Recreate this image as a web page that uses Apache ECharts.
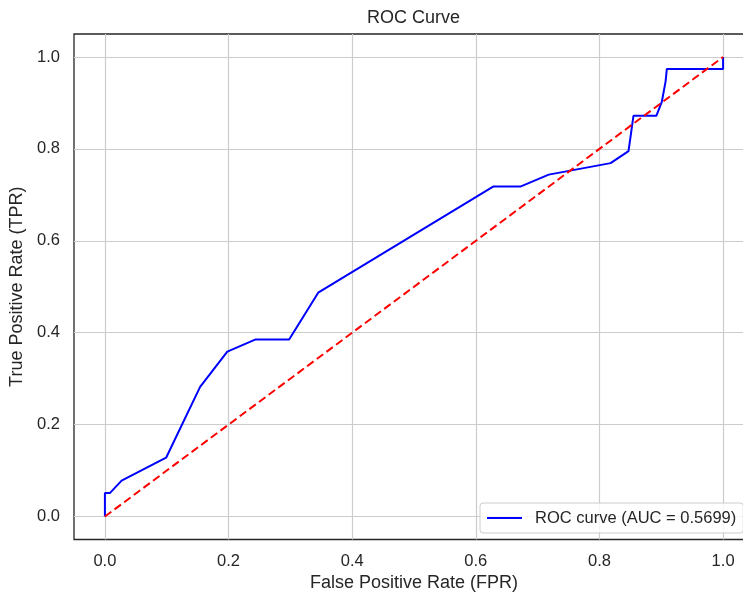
<!DOCTYPE html>
<html>
<head>
<meta charset="utf-8">
<script src="https://cdn.jsdelivr.net/npm/echarts@6/dist/echarts.min.js"></script>
<style>
html,body{margin:0;padding:0;background:#fff;}
#chart{width:743px;height:595px;}
</style>
</head>
<body>
<div id="chart"></div>
<script>
// ROC curve points
var fpr = [0, 0, 0.008, 0.027, 0.099, 0.154, 0.198, 0.243, 0.298, 0.345, 0.628, 0.672, 0.718, 0.818, 0.847, 0.851, 0.855, 0.892, 0.901, 0.907, 0.909, 1.0, 1.0];
var tpr = [0, 0.051, 0.051, 0.078, 0.128, 0.282, 0.359, 0.385, 0.385, 0.487, 0.718, 0.718, 0.744, 0.769, 0.795, 0.833, 0.872, 0.872, 0.903, 0.947, 0.974, 0.974, 1.0];
// chance diagonal
var diagX = [0, 1];
var diagY = [0, 1];
// ticks
var xTicks = [0, 0.2, 0.4, 0.6, 0.8, 1.0];
var xTickLabels = ['0.0', '0.2', '0.4', '0.6', '0.8', '1.0'];
var yTicks = [0, 0.2, 0.4, 0.6, 0.8, 1.0];
var yTickLabels = ['0.0', '0.2', '0.4', '0.6', '0.8', '1.0'];
var titleText = 'ROC Curve';
var xName = 'False Positive Rate (FPR)';
var yName = 'True Positive Rate (TPR)';
var seriesName = 'ROC curve (AUC = 0.5699)';

function pairs(xs, ys) { return xs.map(function (x, i) { return [x, ys[i]]; }); }
function labelFor(ticks, labels) {
  return function (v) {
    for (var i = 0; i < ticks.length; i++) if (Math.abs(v - ticks[i]) < 1e-6) return labels[i];
    return '';
  };
}
var FONT = '"Liberation Sans", Arial, sans-serif';
var TXT = '#262626';
var GRID = '#cccccc';
var gridColors = ['rgba(0,0,0,0)', GRID, 'rgba(0,0,0,0)', 'rgba(0,0,0,0)'];

var chart = echarts.init(document.getElementById('chart'), null, {renderer: 'canvas'});
chart.setOption({
  animation: false,
  backgroundColor: '#ffffff',
  textStyle: {fontFamily: FONT},
  title: {
    text: titleText, left: 367, top: 9, padding: 0,
    textStyle: {fontFamily: FONT, fontSize: 18, fontWeight: 'normal', color: TXT}
  },
  grid: {
    left: 74, top: 34, right: -11, bottom: 55.5,
    show: true, borderColor: TXT, borderWidth: 1.3, backgroundColor: '#ffffff',
    containLabel: false, outerBoundsMode: 'none'
  },
  legend: {
    left: 480, top: 503, padding: [6, 7, 6, 7],
    orient: 'vertical',
    icon: 'rect', itemWidth: 35, itemHeight: 2,
    backgroundColor: 'rgba(255,255,255,0.8)', borderColor: '#cccccc', borderWidth: 1, borderRadius: 3,
    textStyle: {fontFamily: FONT, fontSize: 16.5, color: TXT, padding: [0, 0, 0, 8], lineHeight: 18},
    data: [seriesName]
  },
  xAxis: {
    type: 'value', min: -0.05, max: 1.05, interval: 0.05,
    name: xName, nameLocation: 'middle', nameGap: 33,
    nameTextStyle: {fontFamily: FONT, fontSize: 18, color: TXT},
    axisLine: {show: false}, axisTick: {show: false},
    axisLabel: {formatter: labelFor(xTicks, xTickLabels), margin: 13, fontFamily: FONT, fontSize: 16.5, color: TXT, showMinLabel: true, showMaxLabel: true},
    splitLine: {show: true, lineStyle: {color: gridColors, width: 1.2}}
  },
  yAxis: {
    type: 'value', min: -0.05, max: 1.05, interval: 0.05,
    name: yName, nameLocation: 'middle', nameGap: 43,
    nameTextStyle: {fontFamily: FONT, fontSize: 18, color: TXT},
    axisLine: {show: false}, axisTick: {show: false},
    axisLabel: {formatter: labelFor(yTicks, yTickLabels), margin: 14, fontFamily: FONT, fontSize: 16.5, color: TXT},
    splitLine: {show: true, lineStyle: {color: gridColors, width: 1.2}}
  },
  series: [
    {
      name: seriesName, type: 'line', data: pairs(fpr, tpr),
      symbol: 'none', z: 3,
      lineStyle: {color: '#0000ff', width: 2}, itemStyle: {color: '#0000ff'}
    },
    {
      name: 'diag', type: 'line', data: pairs(diagX, diagY),
      symbol: 'none', z: 4,
      lineStyle: {color: '#ff0000', width: 2, type: [8, 4]}, itemStyle: {color: '#ff0000'}
    }
  ]
});
</script>
</body>
</html>
